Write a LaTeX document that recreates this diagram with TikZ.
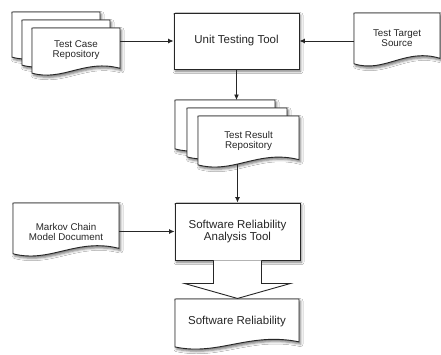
\documentclass[tikz,border=0pt]{standalone}
\usepackage{fontspec}
\setmainfont{Liberation Sans}
\usetikzlibrary{arrows.meta,shadows.blur,calc}
\newcommand\docsheet[4]{%
  \draw[docstyle] (#1,#2) -- (#3,#2) -- (#3,{#4-0.16*(#4-#2)})
    .. controls ({#1+0.6*(#3-#1)},{#4-0.36*(#4-#2)}) and ({#1+0.35*(#3-#1)},{#4+0.12*(#4-#2)})
    .. (#1,{#4-0.06*(#4-#2)}) -- cycle;}
\begin{document}
\begin{tikzpicture}[x=1pt,y=-1pt,
  shad/.style={blur shadow={shadow xshift=1.5pt, shadow yshift=-2.2pt, shadow blur radius=2.5pt, shadow opacity=55}},
  tool/.style={draw=black!85, line width=0.9pt, fill=white, shad, font=\fontsize{11.5}{11.5}\selectfont, align=center, inner sep=0pt, text=black!85},
  docstyle/.style={draw=black!85, line width=0.9pt, fill=white, shad},
  doctext/.style={font=\fontsize{9.8}{10}\selectfont, align=center, inner sep=0pt, text=black!85},
  bigtext/.style={font=\fontsize{11.5}{11.5}\selectfont, align=center, inner sep=0pt, text=black!85},
  arr/.style={line width=0.9pt, draw=black!85, -{Latex[length=5.5pt,width=5pt]}},
  bigarrow/.style={draw=black!85, line width=0.9pt, fill=white}
]
\fill[white] (0,0) rectangle (441,354);
\useasboundingbox (0,0) rectangle (441,354);

% Unit Testing Tool
\node[tool, minimum width=125pt, minimum height=56pt] (utt) at (236.5,41) {Unit Testing Tool};

% Test Case Repository (stack)
\docsheet{12}{12}{100}{60}
\docsheet{22}{20}{110}{68}
\docsheet{32}{28}{120}{76}
\node[doctext, minimum width=88pt] (tcr) at (76,50) {Test Case\\Repository};
\draw[arr] (tcr.east |- utt.west) -- (utt.west);

% Test Target Source
\docsheet{354}{13}{440}{67}
\node[doctext, minimum width=86pt] (tts) at (397,38) {Test Target\\Source};
\draw[arr] (tts.west |- utt.east) -- (utt.east);

% Test Result Repository (stack)
\docsheet{175}{100}{275}{152}
\docsheet{187}{108}{287}{160}
\docsheet{198}{116}{299}{168}
\node[doctext, minimum width=101pt] (trr) at (248.5,141) {Test Result\\Repository};
\coordinate (trrtop) at (236.5,100);
\draw[arr] (utt.south) -- (trrtop);

% Software Reliability Analysis Tool
\node[tool, minimum width=125pt, minimum height=57pt] (srat) at (237.5,231.5) {Software Reliability\\Analysis Tool};
\coordinate (trrbot) at (237.5,164);
\draw[arr] (trrbot) -- (srat.north);

% Markov Chain Model Document
\docsheet{13}{203}{119}{257}
\node[doctext, minimum width=106pt] (mcm) at (66,232) {Markov Chain\\Model Document};
\draw[arr] (mcm.east |- srat.west) -- (srat.west);

% Software Reliability document
\docsheet{175}{299}{299}{350}
\node[bigtext, minimum width=124pt] (sr) at (237,322) {Software Reliability};

% Big hollow arrow
\draw[bigarrow] ($(srat.south)+(-24,0)$) -- ++(0,23) -- ++(-29,0) -- ($(srat.south)+(0,38)$)
  -- ($(srat.south)+(53,23)$) -- ++(-29,0) -- ++(0,-23);
\end{tikzpicture}
\end{document}
